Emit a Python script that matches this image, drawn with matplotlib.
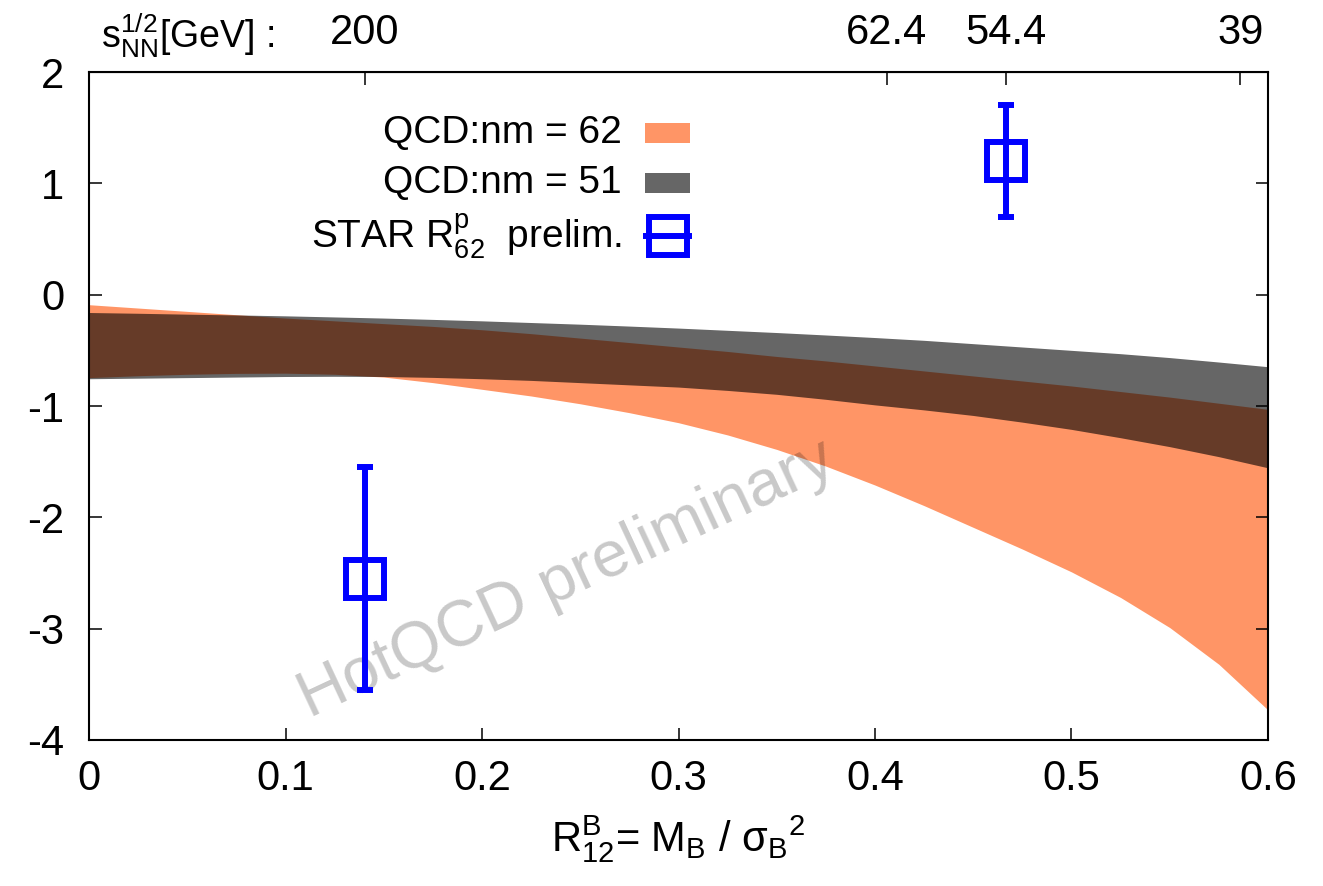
import matplotlib

matplotlib.use("Agg")
import matplotlib.pyplot as plt
from matplotlib.patches import Rectangle

plt.rcParams["font.family"] = ["Liberation Sans", "DejaVu Sans"]
plt.rcParams["mathtext.fontset"] = "custom"
plt.rcParams["mathtext.rm"] = "Liberation Sans"
plt.rcParams["mathtext.it"] = "Liberation Sans"
plt.rcParams["axes.unicode_minus"] = False

# lattice QCD bands vs R12 = M/sigma^2
x = [0.0, 0.025, 0.05, 0.075, 0.1, 0.125, 0.15, 0.175, 0.2, 0.225, 0.25, 0.275, 0.3,
     0.325, 0.35, 0.375, 0.4, 0.425, 0.45, 0.475, 0.5, 0.525, 0.55, 0.575, 0.6]
nm62_upper = [-0.09, -0.12, -0.15, -0.18, -0.21, -0.235, -0.26, -0.285, -0.315, -0.35,
              -0.39, -0.43, -0.47, -0.51, -0.555, -0.595, -0.64, -0.685, -0.73, -0.775,
              -0.82, -0.87, -0.92, -0.975, -1.03]
nm62_lower = [-0.745, -0.728, -0.715, -0.707, -0.705, -0.715, -0.74, -0.79, -0.85, -0.91,
              -0.98, -1.06, -1.15, -1.26, -1.39, -1.54, -1.71, -1.895, -2.09, -2.285,
              -2.49, -2.72, -2.99, -3.32, -3.73]
nm51_upper = [-0.16, -0.167, -0.175, -0.182, -0.19, -0.20, -0.21, -0.222, -0.235, -0.25,
              -0.265, -0.282, -0.30, -0.32, -0.34, -0.362, -0.385, -0.41, -0.44, -0.47,
              -0.50, -0.53, -0.565, -0.605, -0.647]
nm51_lower = [-0.755, -0.75, -0.745, -0.74, -0.735, -0.733, -0.735, -0.743, -0.755, -0.77,
              -0.79, -0.81, -0.83, -0.86, -0.895, -0.94, -0.99, -1.035, -1.085, -1.145,
              -1.21, -1.285, -1.365, -1.455, -1.555]

# STAR preliminary points
star_x = [0.1405, 0.4667]
star_y = [-2.55, 1.20]
star_err = [1.0, 0.5]

# collision energies on the top axis
energy_pos = [0.1405, 0.406, 0.4667, 0.586]
energy_labels = ["200", "62.4", "54.4", "39"]

orange = "#ff9566"
blue = "#0000ff"
fs = 30
leg_fs = 28

fig = plt.figure(figsize=(13.23, 8.86), dpi=100)
ax = fig.add_axes([0.0673, 0.1648, 0.8911, 0.7539])

ax.fill_between(x, nm62_lower, nm62_upper, color=orange, lw=0, zorder=1)
# black at 60% over orange gives the dark overlap, plain grey on white
ax.fill_between(x, nm51_lower, nm51_upper, color="black", alpha=0.6, lw=0, zorder=2)

ax.text(0.243, -2.56, "HotQCD preliminary", fontsize=47, color="black", alpha=0.216,
        rotation=25, rotation_mode="anchor", ha="center", va="center", zorder=3)

ax.errorbar(star_x, star_y, yerr=star_err, fmt="s", color=blue, mfc="none", mec=blue,
            ms=28, mew=4.3, elinewidth=4.3, capsize=6, capthick=4.3, zorder=4)

ax.set_xlim(0, 0.6)
ax.set_ylim(-4, 2)
ax.set_xticks([0, 0.1, 0.2, 0.3, 0.4, 0.5, 0.6])
ax.set_xticklabels(["0", "0.1", "0.2", "0.3", "0.4", "0.5", "0.6"])
ax.set_yticks([-4, -3, -2, -1, 0, 1, 2])
ax.tick_params(axis="both", direction="in", length=9, width=1.1, labelsize=fs,
               right=True, top=False)
ax.tick_params(axis="x", pad=14)
ax.tick_params(axis="y", pad=18)
for sp in ax.spines.values():
    sp.set_linewidth(1.5)

top = ax.secondary_xaxis("top")
top.set_xticks(energy_pos, labels=energy_labels)
top.tick_params(direction="in", length=9, width=1.1, labelsize=fs, pad=14)

ax.text(0.01, 1.055, r"s$^{1/2}_{\rm NN}$[GeV] :", transform=ax.transAxes,
        fontsize=27, ha="left", va="center")

ax.set_xlabel(r"R$^{\rm B}_{12}$= M$_{\rm B}$ / σ$_{\rm B}$$^2$", fontsize=fs, labelpad=10)

# legend: right-aligned labels with samples on the right
rows_y = [0.909, 0.834, 0.754]
tx = 0.452
ax.text(tx, rows_y[0], "QCD:nm = 62", transform=ax.transAxes, fontsize=leg_fs,
        ha="right", va="center")
ax.text(tx, rows_y[1], "QCD:nm = 51", transform=ax.transAxes, fontsize=leg_fs,
        ha="right", va="center")
ax.text(tx, rows_y[2], r"STAR R$^{\rm p}_{62}$  prelim.", transform=ax.transAxes,
        fontsize=leg_fs, ha="right", va="center")
ax.add_patch(Rectangle((0.4716, rows_y[0] - 0.015), 0.0382, 0.030,
                       transform=ax.transAxes, color=orange, lw=0, zorder=5))
ax.add_patch(Rectangle((0.4716, rows_y[1] - 0.015), 0.0382, 0.030,
                       transform=ax.transAxes, color="#666666", lw=0, zorder=5))
ax.plot([0.4700, 0.5114], [rows_y[2], rows_y[2]], transform=ax.transAxes,
        color=blue, lw=4.3, solid_capstyle="butt", zorder=5)
ax.plot([0.4907], [rows_y[2]], transform=ax.transAxes, marker="s", ms=28,
        mfc="none", mec=blue, mew=4.3, zorder=5)

fig.savefig("out.png", dpi=100)
